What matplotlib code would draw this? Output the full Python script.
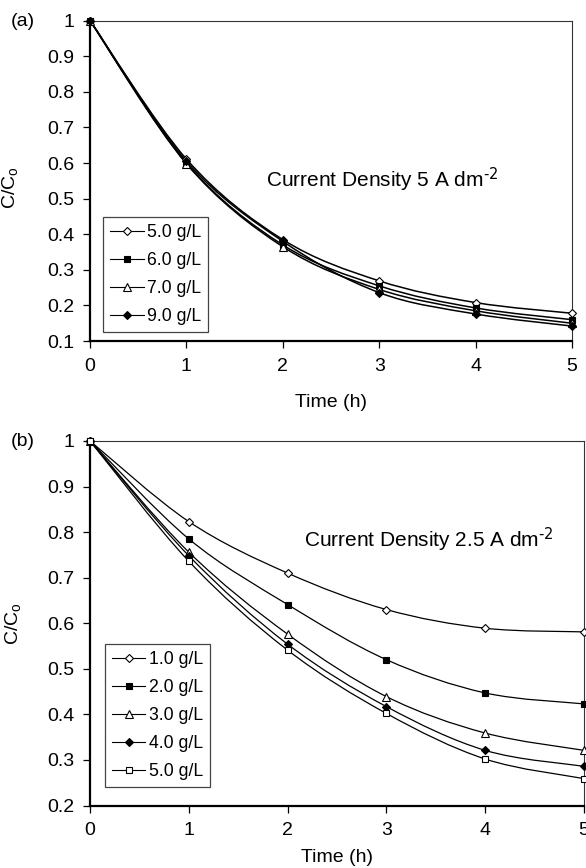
import numpy as np
import matplotlib
matplotlib.use("Agg")
import matplotlib.pyplot as plt
from matplotlib.path import Path
from matplotlib.patches import PathPatch
from matplotlib.lines import Line2D

plt.rcParams['font.family'] = ['Liberation Sans', 'DejaVu Sans']
plt.rcParams['mathtext.default'] = 'regular'
plt.rcParams['axes.unicode_minus'] = False

# data
time_h = [0, 1, 2, 3, 4, 5]

labels_a = ['5.0 g/L', '6.0 g/L', '7.0 g/L', '9.0 g/L']
conc_a_50 = [1.0, 0.611, 0.385, 0.269, 0.208, 0.178]
conc_a_60 = [1.0, 0.600, 0.370, 0.255, 0.193, 0.160]
conc_a_70 = [1.0, 0.598, 0.365, 0.245, 0.185, 0.150]
conc_a_90 = [1.0, 0.605, 0.380, 0.236, 0.176, 0.142]
series_a = [conc_a_50, conc_a_60, conc_a_70, conc_a_90]

labels_b = ['1.0 g/L', '2.0 g/L', '3.0 g/L', '4.0 g/L', '5.0 g/L']
conc_b_10 = [1.0, 0.823, 0.710, 0.630, 0.589, 0.581]
conc_b_20 = [1.0, 0.785, 0.641, 0.520, 0.447, 0.423]
conc_b_30 = [1.0, 0.756, 0.576, 0.439, 0.359, 0.321]
conc_b_40 = [1.0, 0.748, 0.554, 0.417, 0.321, 0.286]
conc_b_50 = [1.0, 0.736, 0.541, 0.402, 0.302, 0.259]
series_b = [conc_b_10, conc_b_20, conc_b_30, conc_b_40, conc_b_50]

yticks_a = [0.1, 0.2, 0.3, 0.4, 0.5, 0.6, 0.7, 0.8, 0.9, 1.0]
yticks_b = [0.2, 0.3, 0.4, 0.5, 0.6, 0.7, 0.8, 0.9, 1.0]

# marker style per series: (marker, size, filled)
style_a = [('D', 4.0, False), ('s', 5.0, True), ('^', 5.5, False), ('D', 4.0, True)]
style_b = [('D', 4.0, False), ('s', 5.0, True), ('^', 5.5, False), ('D', 4.0, True), ('s', 5.0, False)]


# smooth curve like excel "smoothed line" (catmull-rom as bezier segments)
def smooth_path(x, y):
    p = np.column_stack([x, y]).astype(float)
    n = len(p)
    verts = [p[0]]
    codes = [Path.MOVETO]
    for i in range(n - 1):
        p0 = p[i - 1] if i > 0 else p[i]
        p3 = p[i + 2] if i + 2 < n else p[i + 1]
        c1 = p[i] + (p[i + 1] - p0) / 6.0
        c2 = p[i + 1] - (p3 - p[i]) / 6.0
        verts += [c1, c2, p[i + 1]]
        codes += [Path.CURVE4] * 3
    return Path(verts, codes)


def draw_panel(ax, series, styles, labels, yticks, lw):
    handles = []
    for ys, (m, ms, filled), lab in zip(series, styles, labels):
        ax.add_patch(PathPatch(smooth_path(time_h, ys), fc='none', ec='black',
                               lw=lw, zorder=2, clip_on=False))
        fc = 'black' if filled else 'white'
        ax.plot(time_h, ys, ls='none', marker=m, ms=ms, mfc=fc, mec='black',
                mew=0.8, zorder=3, clip_on=False)
        handles.append(Line2D([], [], color='black', lw=0.8, marker=m, ms=ms,
                              mfc=fc, mec='black', mew=0.8, label=lab))
    ax.set_xlim(0, 5)
    ax.set_ylim(yticks[0], yticks[-1])
    ax.set_xticks(time_h)
    ax.set_yticks(yticks)
    ax.set_yticklabels([f'{v:g}' for v in yticks])
    ax.tick_params(direction='out', length=5, width=0.9, labelsize=14, pad=6)
    ax.tick_params(axis='x', pad=7)
    for s in ['left', 'bottom']:
        ax.spines[s].set_linewidth(1.6)
    for s in ['top', 'right']:
        ax.spines[s].set_linewidth(0.8)
        ax.spines[s].set_color('#333333')
    ax.set_xlabel('Time (h)', fontsize=14)
    ax.set_ylabel('C/C$_o$', fontsize=14)
    return handles


fig = plt.figure(figsize=(5.86, 8.68), dpi=100)
ax1 = fig.add_axes([0.1536, 0.6071, 0.8225, 0.3692])
ax2 = fig.add_axes([0.1536, 0.0720, 0.8430, 0.4200])

h1 = draw_panel(ax1, series_a, style_a, labels_a, yticks_a, 1.1)
h2 = draw_panel(ax2, series_b, style_b, labels_b, yticks_b, 0.9)

ax1.xaxis.set_label_coords(0.5, -0.165)
ax2.xaxis.set_label_coords(0.5, -0.118)
ax1.yaxis.set_label_coords(-0.145, 0.48)
ax2.yaxis.set_label_coords(-0.136, 0.50)

ax1.text(1.83, 0.553, r'Current Density 5 A dm$^{\text{-2}}$', fontsize=15, ha='left', va='center')
ax2.text(2.17, 0.783, r'Current Density 2.5 A dm$^{\text{-2}}$', fontsize=15, ha='left', va='center')

for ax, h, anchor in [(ax1, h1, (0.027, 0.028)), (ax2, h2, (0.030, 0.051))]:
    leg = ax.legend(handles=h, loc='lower left', bbox_to_anchor=anchor, borderaxespad=0,
                    fontsize=12.7, handlelength=1.9, handletextpad=0.2, labelspacing=0.62,
                    borderpad=0.4, fancybox=False, framealpha=1, numpoints=1)
    leg.get_frame().set_edgecolor('#444444')
    leg.get_frame().set_linewidth(0.9)

fig.text(23 / 586, 1 - 21 / 868, '(a)', fontsize=14, ha='center', va='center')
fig.text(23 / 586, 1 - 442 / 868, '(b)', fontsize=14, ha='center', va='center')

fig.savefig('out.png', dpi=100)
